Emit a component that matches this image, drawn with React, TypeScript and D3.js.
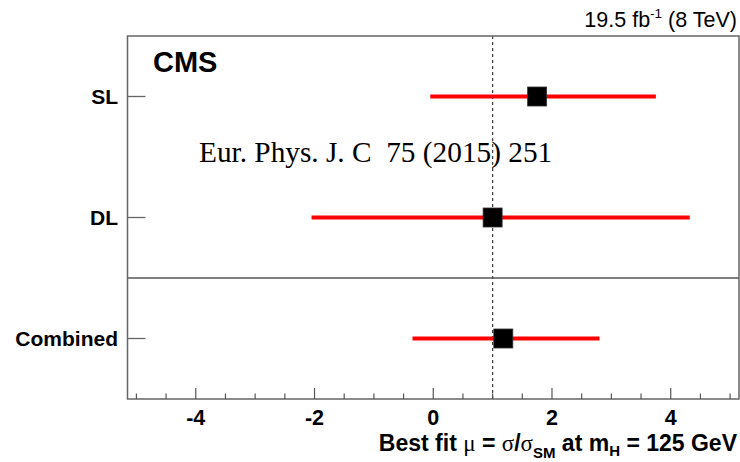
import React from "react";
import * as d3 from "d3";

const categories = ["SL", "DL", "Combined"];
const bestFit = [1.75, 1.0, 1.18];
const lowEdge = [-0.05, -2.05, -0.35];
const highEdge = [3.75, 4.32, 2.8];
const rowPos = [2.5, 1.5, 0.5];
const xTicks = [-4, -2, 0, 2, 4];

const W = 740, H = 462;
const L = 127.5, R = 739, T = 36, B = 399;

export default function App() {
  const x = d3.scaleLinear().domain([-5.15, 5.15]).range([L, R]);
  const y = d3.scaleLinear().domain([0, 3]).range([B, T]);
  const minor = d3.range(-5, 5.01, 0.5);
  const sans = "'Liberation Sans', Arial, Helvetica, sans-serif";
  const serif = "'Liberation Serif', 'Times New Roman', serif";
  return (
    <svg width={W} height={H} style={{ position: "absolute", left: 0, top: 0, background: "#fff" }}>
      <rect x={0} y={0} width={W} height={H} fill="#fff" />
      <line x1={x(1)} x2={x(1)} y1={T} y2={B} stroke="#444" strokeWidth={1.3} strokeDasharray="3,3" />
      <line x1={L} x2={R} y1={y(1)} y2={y(1)} stroke="#555" strokeWidth={1.3} />
      <rect x={L} y={T} width={R - L} height={B - T} fill="none" stroke="#666" strokeWidth={1.5} />
      {minor.map((v, i) => {
        const major = Math.abs(v % 2) < 1e-6;
        return <line key={"t" + i} x1={x(v)} x2={x(v)} y1={B} y2={B - (major ? 11 : 5.5)} stroke="#555" strokeWidth={1.2} />;
      })}
      {xTicks.map((v) => (
        <text key={"xl" + v} x={x(v)} y={425} textAnchor="middle" fontFamily={sans} fontWeight="bold" fontSize={21.5} fill="#000">
          {v}
        </text>
      ))}
      {categories.map((c, i) => (
        <g key={c}>
          <line x1={L} x2={L + 18} y1={y(rowPos[i])} y2={y(rowPos[i])} stroke="#666" strokeWidth={1.3} />
          <text x={118} y={y(rowPos[i]) + 7.5} textAnchor="end" fontFamily={sans} fontWeight="bold" fontSize={21} fill="#000">
            {c}
          </text>
        </g>
      ))}
      {categories.map((c, i) => (
        <g key={"e" + c}>
          <line x1={x(lowEdge[i])} x2={x(highEdge[i])} y1={y(rowPos[i])} y2={y(rowPos[i])} stroke="#ff0000" strokeWidth={4} />
          <rect x={x(bestFit[i]) - 9.5} y={y(rowPos[i]) - 9.5} width={19} height={19} fill="#000" stroke="#333" strokeWidth={0.8} />
        </g>
      ))}
      <text x={153} y={72} fontFamily={sans} fontWeight="bold" fontSize={29} fill="#000">CMS</text>
      <text x={737} y={27} textAnchor="end" fontFamily={sans} fontSize={21.5} fill="#000">
        19.5 fb<tspan dy={-9} fontSize={13.5}>-1</tspan><tspan dy={9}> (8 TeV)</tspan>
      </text>
      <text x={199} y={162} fontFamily={serif} fontSize={29.3} fill="#000" style={{ whiteSpace: "pre" }}>
        {"Eur. Phys. J. C  75 (2015) 251"}
      </text>
      <text x={737} y={451} textAnchor="end" fontFamily={sans} fontWeight="bold" fontSize={23} fill="#000">
        Best fit <tspan fontWeight="normal" fontFamily={serif}>μ</tspan> = <tspan fontWeight="normal" fontFamily={serif}>σ</tspan>/<tspan fontWeight="normal" fontFamily={serif}>σ</tspan>
        <tspan dy={7} fontSize={15}>SM</tspan><tspan dy={-7}> at m</tspan><tspan dy={5} fontSize={15}>H</tspan><tspan dy={-5}> = 125 GeV</tspan>
      </text>
    </svg>
  );
}
